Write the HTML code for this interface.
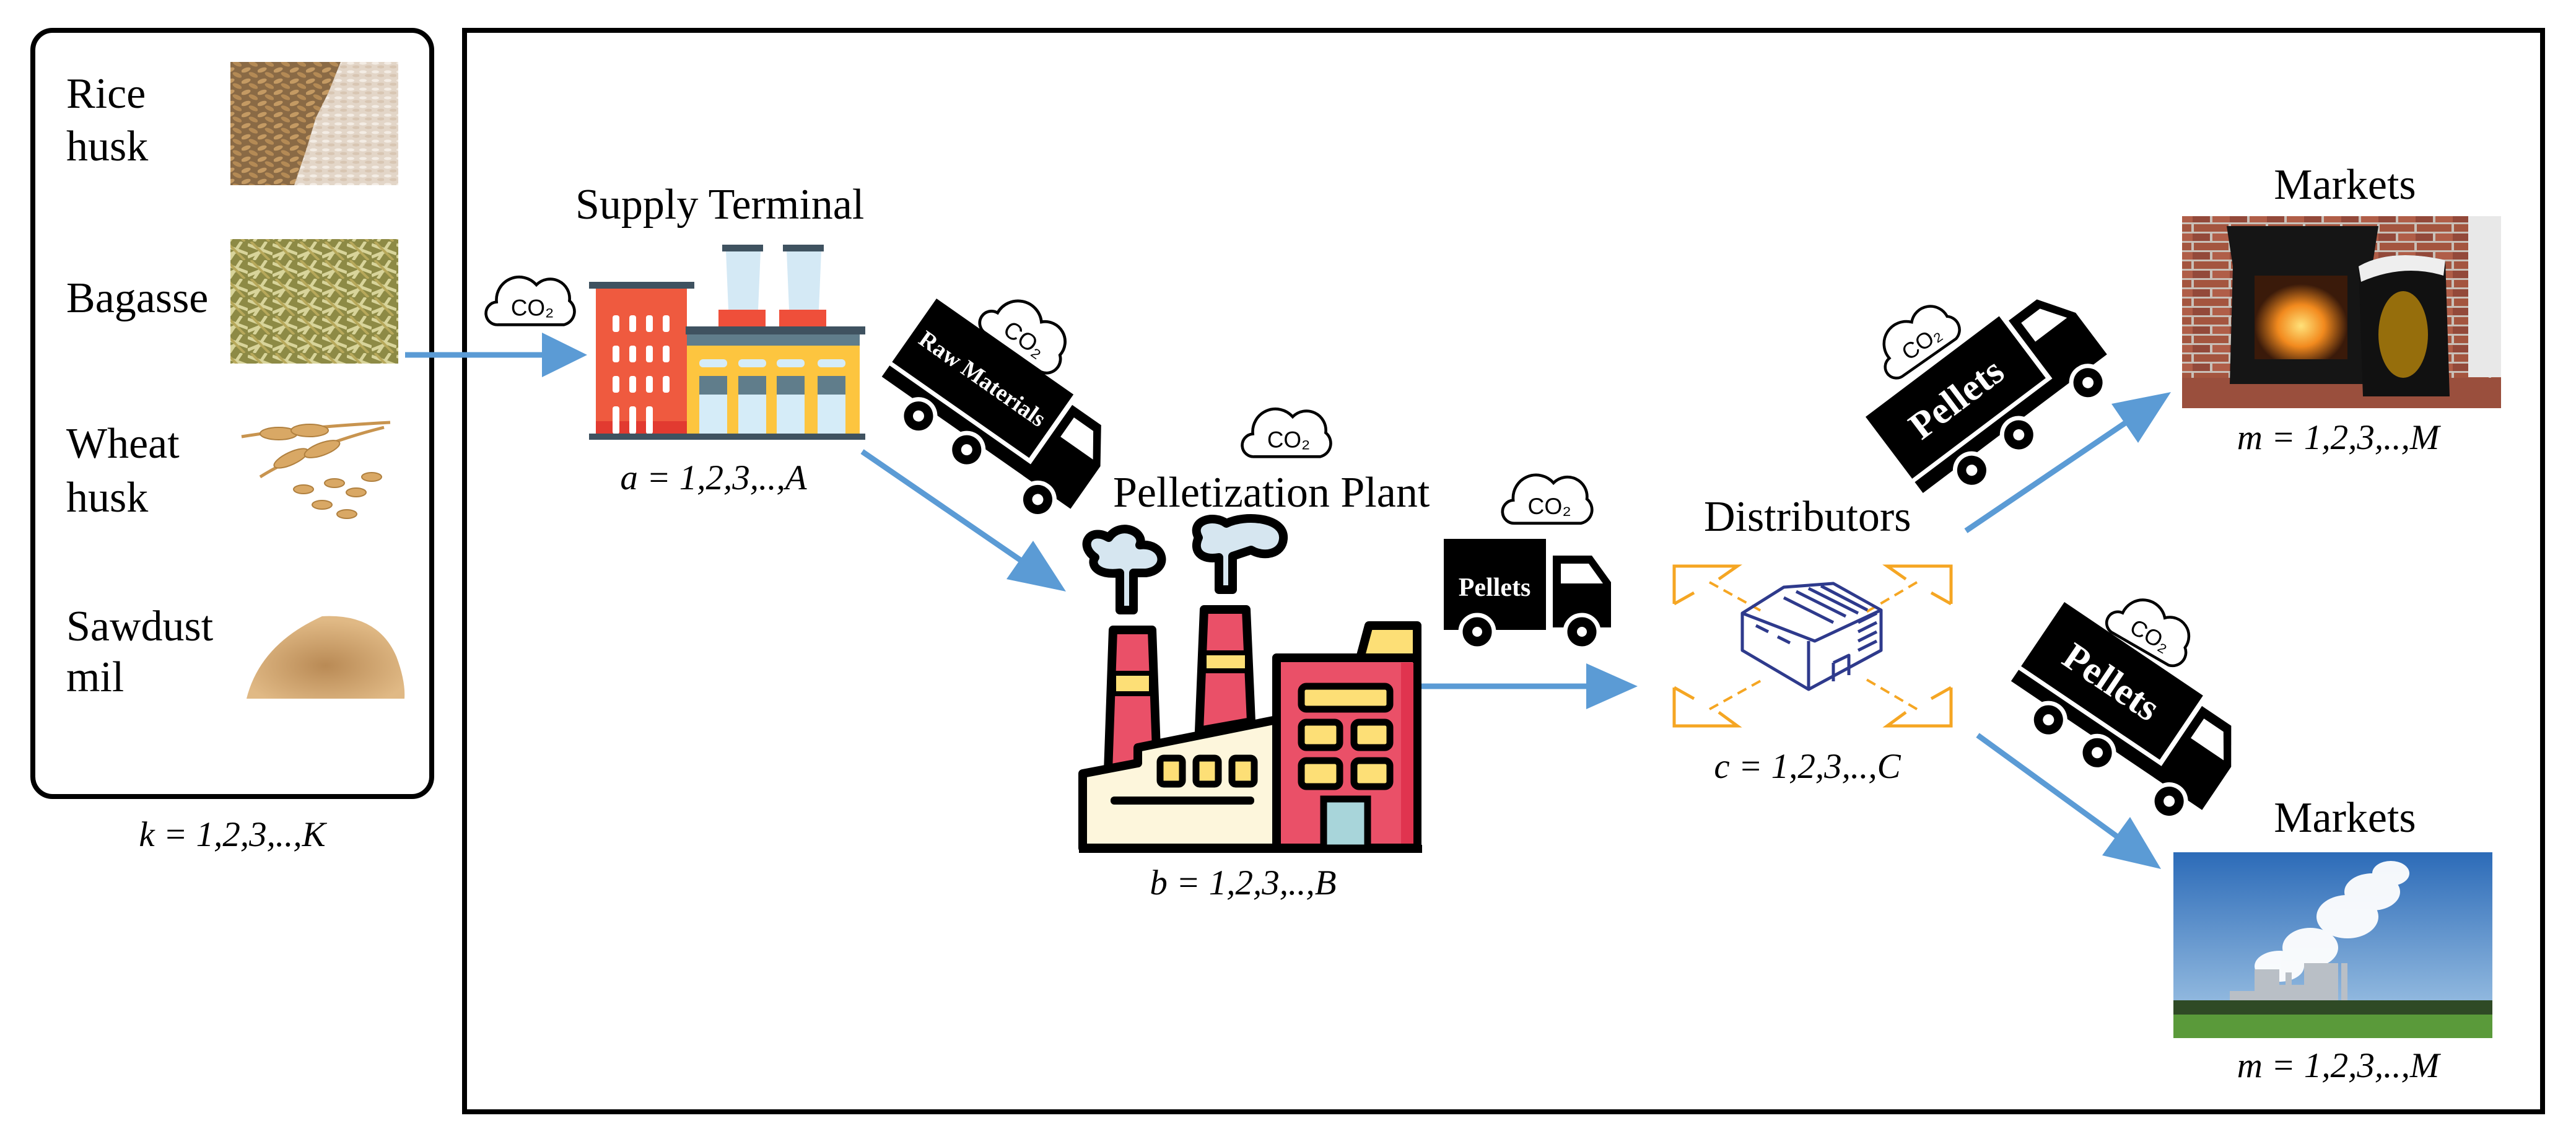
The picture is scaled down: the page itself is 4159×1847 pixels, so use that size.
<!DOCTYPE html>
<html><head><meta charset="utf-8"><style>
html,body{margin:0;padding:0;background:#fff}
svg{display:block}
</style></head><body>
<svg width="4159" height="1847" viewBox="0 0 4159 1847" xmlns="http://www.w3.org/2000/svg">
<defs>
<path id="cloud" d="M-55,46 H60 A24,24 0 0 0 70,4 A34,34 0 0 0 12,-24 A40,40 0 0 0 -58,6 A20,20 0 0 0 -55,46 Z" fill="#fff" stroke="#000" stroke-width="5"/>
<pattern id="grain" width="26" height="18" patternUnits="userSpaceOnUse">
<rect width="26" height="18" fill="#8a6a45"/>
<ellipse cx="7" cy="5" rx="8" ry="3.5" fill="#c49a63" transform="rotate(-20 7 5)"/>
<ellipse cx="19" cy="13" rx="8" ry="3.5" fill="#b48a55" transform="rotate(25 19 13)"/>
</pattern>
<pattern id="rice" width="20" height="14" patternUnits="userSpaceOnUse">
<rect width="20" height="14" fill="#e3d6c8"/>
<ellipse cx="6" cy="4" rx="6" ry="2.5" fill="#f3ece4"/>
<ellipse cx="15" cy="10" rx="6" ry="2.5" fill="#d8c6b3"/>
</pattern>
<pattern id="bag" width="40" height="30" patternUnits="userSpaceOnUse">
<rect width="40" height="30" fill="#8d8a45"/>
<path d="M0,5 L40,20 M10,30 L30,0 M0,25 L25,15" stroke="#d8d49a" stroke-width="5"/>
<path d="M5,0 L35,30" stroke="#b7a85a" stroke-width="4"/>
</pattern>
<pattern id="brick" width="60" height="30" patternUnits="userSpaceOnUse">
<rect width="60" height="30" fill="#c9c0b8"/>
<rect x="2" y="2" width="56" height="12" fill="#a4553f"/>
<rect x="-28" y="17" width="56" height="12" fill="#93493a"/>
<rect x="32" y="17" width="56" height="12" fill="#b05e48"/>
</pattern>
<linearGradient id="sky" x1="0" y1="0" x2="0" y2="1">
<stop offset="0" stop-color="#2c6bb8"/><stop offset="1" stop-color="#a9cbe8"/>
</linearGradient>
<radialGradient id="fire" cx="0.5" cy="0.6" r="0.5">
<stop offset="0" stop-color="#ffe27a"/><stop offset="0.5" stop-color="#f28a1e"/><stop offset="1" stop-color="#3a1a0a"/>
</radialGradient>
<radialGradient id="saw" cx="0.5" cy="0.6" r="0.55">
<stop offset="0" stop-color="#b98a55"/><stop offset="1" stop-color="#e0b985"/>
</radialGradient>
</defs>

<rect x="53" y="49" width="644" height="1237" rx="32" fill="none" stroke="#000" stroke-width="8"/>
<rect x="750" y="49" width="3355" height="1746" fill="none" stroke="#000" stroke-width="8"/>

<g font-family="Liberation Serif, serif" font-size="70" fill="#000">
<text x="107" y="174">Rice</text>
<text x="107" y="259">husk</text>
<text x="107" y="504">Bagasse</text>
<text x="107" y="739">Wheat</text>
<text x="107" y="826">husk</text>
<text x="107" y="1034">Sawdust</text>
<text x="107" y="1116">mil</text>
<text x="929" y="353">Supply Terminal</text>
<text x="1797" y="818">Pelletization Plant</text>
<text x="2751" y="857">Distributors</text>
<text x="3786" y="321" text-anchor="middle">Markets</text>
<text x="3786" y="1343" text-anchor="middle">Markets</text>
</g>
<g font-family="Liberation Serif, serif" font-style="italic" font-size="57" fill="#000" text-anchor="middle">
<text x="375" y="1366">k = 1,2,3,..,K</text>
<text x="1152" y="790">a = 1,2,3,..,A</text>
<text x="2007" y="1444">b = 1,2,3,..,B</text>
<text x="2918" y="1256">c = 1,2,3,..,C</text>
<text x="3775" y="725">m = 1,2,3,..,M</text>
<text x="3775" y="1739">m = 1,2,3,..,M</text>
</g>

<rect x="372" y="100" width="271" height="199" fill="url(#rice)"/>
<path d="M372,100 H550 L530,150 L510,190 L495,240 L475,299 H372 Z" fill="url(#grain)"/>
<rect x="372" y="386" width="271" height="201" fill="url(#bag)"/>
<g fill="#d9a865" stroke="#b0803f" stroke-width="2">
<path d="M390,705 Q480,690 630,682" fill="none" stroke="#c8944f" stroke-width="5"/>
<path d="M420,770 Q500,720 620,690" fill="none" stroke="#c8944f" stroke-width="5"/>
<ellipse cx="450" cy="700" rx="30" ry="10"/><ellipse cx="500" cy="695" rx="30" ry="10"/>
<ellipse cx="470" cy="740" rx="30" ry="10" transform="rotate(-25 470 740)"/>
<ellipse cx="520" cy="725" rx="30" ry="10" transform="rotate(-20 520 725)"/>
<ellipse cx="540" cy="780" rx="16" ry="7"/><ellipse cx="575" cy="795" rx="16" ry="7"/>
<ellipse cx="520" cy="815" rx="16" ry="7"/><ellipse cx="600" cy="770" rx="16" ry="7"/>
<ellipse cx="560" cy="830" rx="16" ry="7"/><ellipse cx="490" cy="790" rx="16" ry="7"/>
</g>
<path d="M398,1128 Q420,1040 520,995 Q610,990 640,1060 Q655,1100 653,1128 Z" fill="url(#saw)"/>

<g font-family="Liberation Sans, DejaVu Sans, sans-serif" font-size="40" fill="#000" text-anchor="middle">
<g transform="translate(855,482) scale(0.92)"><use href="#cloud"/><text x="5" y="30">CO₂</text></g>
<g transform="translate(1659,532) rotate(35) scale(0.95)"><use href="#cloud"/><text x="5" y="30">CO₂</text></g>
<g transform="translate(2076,695) scale(0.92)"><use href="#cloud"/><text x="5" y="30">CO₂</text></g>
<g transform="translate(2497,802) scale(0.93)"><use href="#cloud"/><text x="5" y="30">CO₂</text></g>
<g transform="translate(3090,544) rotate(-35) scale(0.9)"><use href="#cloud"/><text x="5" y="30">CO₂</text></g>
<g transform="translate(3475,1011) rotate(30) scale(0.9)"><use href="#cloud"/><text x="5" y="30">CO₂</text></g>
</g>

<g fill="#5b9bd5" stroke="#5b9bd5">
<line x1="654" y1="573" x2="880" y2="573" stroke-width="9"/>
<polygon points="875,537 948,573 875,609" stroke="none"/>
<line x1="1392" y1="729" x2="1650" y2="906" stroke-width="9"/>
<polygon points="1625,935 1721,955 1668,873" stroke="none"/>
<line x1="2293" y1="1108" x2="2565" y2="1108" stroke-width="9"/>
<polygon points="2561,1071 2644,1108 2561,1145" stroke="none"/>
<line x1="3174" y1="857" x2="3434" y2="681" stroke-width="9"/>
<polygon points="3452,715 3505,633 3409,652" stroke="none"/>
<line x1="3193" y1="1187" x2="3420" y2="1352" stroke-width="9"/>
<polygon points="3394,1381 3489,1403 3439,1319" stroke="none"/>
</g>

<g>
<path d="M1172,405 L1228,405 L1224,500 L1176,500 Z" fill="#d4e9f5"/>
<path d="M1270,405 L1326,405 L1322,500 L1274,500 Z" fill="#d4e9f5"/>
<rect x="1166" y="395" width="66" height="11" fill="#3f5260"/>
<rect x="1264" y="395" width="66" height="11" fill="#3f5260"/>
<rect x="1160" y="500" width="76" height="28" fill="#ef4f3a"/>
<rect x="1258" y="500" width="76" height="28" fill="#ef4f3a"/>
<rect x="962" y="464" width="147" height="237" fill="#ef5a3f"/>
<rect x="962" y="680" width="147" height="21" fill="#e23a30"/>
<rect x="951" y="455" width="170" height="11" fill="#3f5260"/>
<g fill="#fff">
<rect x="989" y="509" width="11" height="27" rx="4"/><rect x="1016" y="509" width="11" height="27" rx="4"/><rect x="1043" y="509" width="11" height="27" rx="4"/><rect x="1070" y="509" width="11" height="27" rx="4"/>
<rect x="989" y="558" width="11" height="27" rx="4"/><rect x="1016" y="558" width="11" height="27" rx="4"/><rect x="1043" y="558" width="11" height="27" rx="4"/><rect x="1070" y="558" width="11" height="27" rx="4"/>
<rect x="989" y="607" width="11" height="27" rx="4"/><rect x="1016" y="607" width="11" height="27" rx="4"/><rect x="1043" y="607" width="11" height="27" rx="4"/><rect x="1070" y="607" width="11" height="27" rx="4"/>
<rect x="989" y="656" width="11" height="45" rx="4"/><rect x="1016" y="656" width="11" height="45" rx="4"/><rect x="1043" y="656" width="11" height="45" rx="4"/>
</g>
<rect x="1109" y="540" width="279" height="161" fill="#fdc53f"/>
<rect x="1109" y="540" width="279" height="18" fill="#607d8b"/>
<rect x="1107" y="527" width="290" height="13" fill="#3f5260"/>
<g fill="#d5ecf8">
<rect x="1129" y="580" width="45" height="13" rx="6"/><rect x="1192" y="580" width="45" height="13" rx="6"/><rect x="1254" y="580" width="45" height="13" rx="6"/><rect x="1320" y="580" width="45" height="13" rx="6"/>
<rect x="1129" y="607" width="45" height="94"/><rect x="1192" y="607" width="45" height="94"/><rect x="1254" y="607" width="45" height="94"/><rect x="1320" y="607" width="45" height="94"/>
</g>
<g fill="#607d8b">
<rect x="1129" y="607" width="45" height="30"/><rect x="1192" y="607" width="45" height="30"/><rect x="1254" y="607" width="45" height="30"/><rect x="1320" y="607" width="45" height="30"/>
</g>
<rect x="951" y="700" width="446" height="10" fill="#3f5260"/>
</g>

<g transform="translate(1512,482) rotate(35)">
<rect x="0" y="0" width="270" height="125" fill="#000"/>
<rect x="0" y="132" width="330" height="22" fill="#000"/>
<path d="M278,15 H335 L372,70 V154 H278 Z" fill="#000"/>
<path d="M292,30 H330 L356,68 H292 Z" fill="#fff"/>
<g fill="#000" stroke="#fff" stroke-width="7"><circle cx="85" cy="172" r="27"/><circle cx="180" cy="172" r="27"/><circle cx="320" cy="172" r="27"/></g>
<g fill="#fff"><circle cx="85" cy="172" r="9"/><circle cx="180" cy="172" r="9"/><circle cx="320" cy="172" r="9"/></g>
<text x="135" y="76" text-anchor="middle" font-family="Liberation Serif, serif" font-weight="bold" font-size="38" fill="#fff">Raw Materials</text>
</g>

<g stroke="#000" stroke-width="14" stroke-linejoin="round">
<path d="M1768,900 C1740,880 1760,850 1790,868 C1810,840 1850,860 1840,880 C1880,875 1890,920 1850,925 L1830,925 L1830,985 L1808,985 L1808,925 C1770,930 1760,910 1768,900 Z" fill="#d6e6f0"/>
<path d="M1935,868 C1920,840 1960,830 1980,845 C2010,830 2075,835 2072,870 C2070,895 2040,900 2020,888 L1990,898 L1990,952 L1968,952 L1968,900 C1940,905 1925,890 1935,868 Z" fill="#d6e6f0"/>
<path d="M1797,1017 L1860,1017 L1868,1237 L1789,1245 Z" fill="#ea5068"/>
<path d="M1944,984 L2012,984 L2020,1165 L1936,1180 Z" fill="#ea5068"/>
<path d="M2210,1010 L2288,1010 L2288,1062 L2196,1062 Z" fill="#fddf76"/>
<path d="M1748,1249 L1837,1232 L1837,1207 L2061,1162 L2061,1369 L1748,1369 Z" fill="#fdf6dc"/>
<rect x="2061" y="1062" width="227" height="307" fill="#ea5068"/>
</g>
<rect x="2262" y="1070" width="20" height="292" fill="#e0344f"/>
<rect x="1798" y="1087" width="61" height="33" fill="#fddf76" stroke="#000" stroke-width="8"/>
<rect x="1944" y="1054" width="70" height="29" fill="#fddf76" stroke="#000" stroke-width="8"/>
<g fill="#fddf76" stroke="#000" stroke-width="11">
<rect x="2101" y="1108" width="143" height="37" rx="8"/>
<rect x="2101" y="1166" width="62" height="41" rx="8"/><rect x="2186" y="1166" width="58" height="41" rx="8"/>
<rect x="2101" y="1228" width="62" height="42" rx="8"/><rect x="2186" y="1228" width="58" height="42" rx="8"/>
<rect x="1873" y="1224" width="36" height="42" rx="6"/><rect x="1931" y="1224" width="36" height="42" rx="6"/><rect x="1989" y="1224" width="36" height="42" rx="6"/>
</g>
<rect x="2137" y="1290" width="71" height="79" fill="#a8d5da" stroke="#000" stroke-width="11"/>
<rect x="1793" y="1286" width="232" height="13" rx="6" fill="#000"/>
<rect x="1742" y="1364" width="554" height="13" fill="#000"/>

<rect x="2331" y="870" width="165" height="147" fill="#000"/>
<text x="2413" y="962" text-anchor="middle" font-family="Liberation Serif, serif" font-weight="bold" font-size="42" fill="#fff">Pellets</text>
<path d="M2507,897 H2570 L2601,940 V1013 H2507 Z" fill="#000"/>
<path d="M2520,910 H2565 L2588,942 H2520 Z" fill="#fff"/>
<g fill="#000" stroke="#fff" stroke-width="7"><circle cx="2385" cy="1020" r="27"/><circle cx="2554" cy="1020" r="27"/></g>
<g fill="#fff"><circle cx="2385" cy="1020" r="8"/><circle cx="2554" cy="1020" r="8"/></g>

<g fill="none" stroke="#f5a623" stroke-width="5">
<path d="M2703,975 V914 H2805 L2775,935 M2703,975 L2735,957"/>
<path d="M3150,975 V914 H3047 L3077,935 M3150,975 L3118,957"/>
<path d="M2703,1110 V1172 H2805 L2775,1150 M2703,1110 L2735,1128"/>
<path d="M3150,1110 V1172 H3047 L3077,1150 M3150,1110 L3118,1128"/>
<g stroke-dasharray="16,10" stroke-width="4">
<line x1="2760" y1="940" x2="2850" y2="990"/><line x1="3095" y1="940" x2="3010" y2="990"/>
<line x1="2760" y1="1145" x2="2850" y2="1095"/><line x1="3095" y1="1145" x2="3010" y2="1095"/>
</g>
</g>
<g fill="none" stroke="#2e3a8c" stroke-width="5" stroke-linejoin="round">
<path d="M2813,990 L2880,948 L2960,942 L3037,985 L2930,1035 Z"/>
<path d="M2813,990 V1050 L2920,1113 V1035"/>
<path d="M2920,1113 L3037,1050 V985"/>
<path d="M2960,1070 V1100 M2960,1070 L2985,1058 V1090 M3000,1005 L3030,990 M3000,1020 L3030,1005 M3000,1035 L3030,1020 M3000,1050 L3030,1035"/>
<path d="M2880,965 L2960,1005 M2900,955 L2980,995 M2920,950 L3000,990 M2940,946 L3015,985 M2835,1010 L2855,1020 M2870,1028 L2890,1038"/>
</g>

<g transform="translate(3012,673) rotate(-37)">
<rect x="0" y="0" width="270" height="125" fill="#000"/>
<rect x="0" y="132" width="330" height="22" fill="#000"/>
<path d="M278,15 H335 L372,70 V154 H278 Z" fill="#000"/>
<path d="M292,30 H330 L356,68 H292 Z" fill="#fff"/>
<g fill="#000" stroke="#fff" stroke-width="7"><circle cx="85" cy="172" r="27"/><circle cx="180" cy="172" r="27"/><circle cx="320" cy="172" r="27"/></g>
<g fill="#fff"><circle cx="85" cy="172" r="9"/><circle cx="180" cy="172" r="9"/><circle cx="320" cy="172" r="9"/></g>
<text x="135" y="85" text-anchor="middle" font-family="Liberation Serif, serif" font-weight="bold" font-size="62" fill="#fff">Pellets</text>
</g>

<g transform="translate(3333,972) rotate(34)">
<rect x="0" y="0" width="270" height="125" fill="#000"/>
<rect x="0" y="132" width="330" height="22" fill="#000"/>
<path d="M278,15 H335 L372,70 V154 H278 Z" fill="#000"/>
<path d="M292,30 H330 L356,68 H292 Z" fill="#fff"/>
<g fill="#000" stroke="#fff" stroke-width="7"><circle cx="85" cy="172" r="27"/><circle cx="180" cy="172" r="27"/><circle cx="320" cy="172" r="27"/></g>
<g fill="#fff"><circle cx="85" cy="172" r="9"/><circle cx="180" cy="172" r="9"/><circle cx="320" cy="172" r="9"/></g>
<text x="135" y="85" text-anchor="middle" font-family="Liberation Serif, serif" font-weight="bold" font-size="62" fill="#fff">Pellets</text>
</g>

<rect x="3523" y="349" width="515" height="310" fill="url(#brick)"/>
<rect x="3985" y="349" width="53" height="260" fill="#e8e8e8"/>
<rect x="3523" y="610" width="515" height="49" fill="#9a4f3d"/>
<path d="M3595,365 H3840 L3830,430 L3835,620 H3600 L3605,430 Z" fill="#151515"/>
<rect x="3640" y="445" width="150" height="135" fill="url(#fire)"/>
<path d="M3808,430 Q3860,400 3948,420 L3955,640 H3815 Z" fill="#111"/>
<path d="M3808,430 Q3860,400 3948,420 L3945,445 Q3880,425 3812,455 Z" fill="#eee"/>
<ellipse cx="3880" cy="540" rx="40" ry="70" fill="#b8860b" opacity="0.8"/>

<rect x="3509" y="1376" width="515" height="300" fill="url(#sky)"/>
<g fill="#fff" opacity="0.95">
<ellipse cx="3830" cy="1440" rx="45" ry="30"/><ellipse cx="3790" cy="1480" rx="50" ry="35"/><ellipse cx="3730" cy="1530" rx="45" ry="32"/>
<ellipse cx="3680" cy="1560" rx="40" ry="25"/><ellipse cx="3860" cy="1410" rx="30" ry="20"/>
</g>
<g fill="#b9bfc6">
<rect x="3720" y="1555" width="55" height="70"/><rect x="3640" y="1565" width="40" height="60"/>
<path d="M3600,1600 h60 v25 h-60z"/><path d="M3680,1590 h40 v35 h-40z"/>
<rect x="3690" y="1570" width="10" height="55"/><rect x="3780" y="1555" width="10" height="70"/>
</g>
<rect x="3509" y="1615" width="515" height="25" fill="#2f4a25"/>
<rect x="3509" y="1638" width="515" height="38" fill="#5a9a3a"/>
</svg>
</body></html>
